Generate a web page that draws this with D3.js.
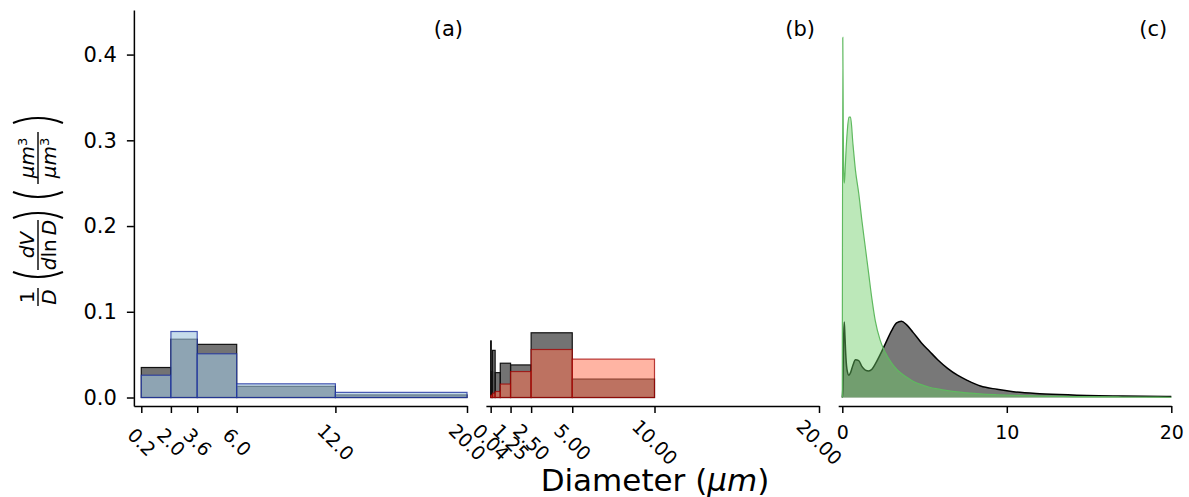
<!DOCTYPE html>
<html>
<head>
<meta charset="utf-8">
<script src="https://cdn.jsdelivr.net/npm/d3@7"></script>
<style>
body { margin: 0; background: #fff; }
text { font-family: "DejaVu Sans", sans-serif; fill: #000; }
.axis text { font-size: 19px; }
.yaxis text { font-size: 21px; }
.axis path, .axis line { stroke: #000; stroke-width: 1.5; }
</style>
</head>
<body>
<div id="chart"></div>
<script>
// panel (a)
let aEdges = [0.2, 2.0, 3.6, 6.0, 12.0, 20.0];
let aBlack = [0.035, 0.068, 0.062, 0.013, 0.003];
let aBlue = [0.026, 0.077, 0.051, 0.016, 0.006];
let aTicks = [0.2, 2.0, 3.6, 6.0, 12.0, 20.0];

// panel (b)
let bEdges = [0.039, 0.078, 0.156, 0.3125, 0.625, 1.25, 2.5, 5, 10];
let bBlack = [0.066, 0.03, 0.055, 0.029, 0.040, 0.038, 0.0755, 0.0215];
let bRed = [0.002, 0.003, 0.005, 0.007, 0.0157, 0.0303, 0.056, 0.0448];
let bTicks = [0.04, 1.25, 2.5, 5, 10, 20];

// panel (c)
let cDiam = [0, 0.03, 0.06, 0.09, 0.12, 0.16, 0.22, 0.3, 0.4, 0.5, 0.65, 0.8, 1.0, 1.2, 1.4, 1.6, 1.8, 2.0,
    2.3, 2.6, 3.0, 3.3, 3.6, 3.9, 4.3, 4.8, 5.3, 5.8, 6.4, 7.0, 7.6, 8.4, 9.4, 10.4, 12, 14, 17, 20];
let cBlack = [0, 0.01, 0.045, 0.075, 0.088, 0.072, 0.047, 0.031, 0.026, 0.029, 0.038, 0.044, 0.043, 0.036,
    0.032, 0.031, 0.033, 0.039, 0.05, 0.062, 0.078, 0.087, 0.089, 0.085, 0.076, 0.064, 0.054, 0.044, 0.034,
    0.026, 0.020, 0.0134, 0.0096, 0.0068, 0.0045, 0.003, 0.0018, 0.0012];
let cGreen = [0, 0.42, 0.31, 0.26, 0.25, 0.26, 0.285, 0.31, 0.327, 0.327, 0.295, 0.265, 0.238, 0.205, 0.175,
    0.145, 0.115, 0.09, 0.067, 0.053, 0.04, 0.033, 0.028, 0.024, 0.019, 0.015, 0.012, 0.01, 0.008, 0.0065,
    0.0055, 0.0042, 0.0032, 0.0025, 0.0017, 0.0011, 0.0006, 0.0003];
let cTicks = [0, 10, 20];

let yTicks = [0, 0.1, 0.2, 0.3, 0.4];
let panelLabels = ["(a)", "(b)", "(c)"];

let canvasWidth = 1189;
let canvasHeight = 497;

let svg = d3.select("div#chart")
    .append("svg")
    .attr("width", canvasWidth)
    .attr("height", canvasHeight);

let yScale = d3.scaleLinear().domain([-0.0099, 0.452]).range([406, 10]);
let axisY = 406;
let panelLeft = [138, 490, 842.3];
let panelSpan = 329;

function makeX(i) {
    // 0..20 maps to panelSpan pixels; domain starts a bit below 0 like the spine
    let x0 = panelLeft[i];
    let k = panelSpan / 20;
    return d3.scaleLinear().domain([-0.25, 20]).range([x0 - 0.25 * k, x0 + panelSpan]);
}

let xa = makeX(0), xb = makeX(1), xc = makeX(2);

function bars(xs, edges, values, fill, opacity, stroke) {
    let data = values.map((v, i) => ({x0: edges[i], x1: edges[i + 1], v: v}));
    svg.append("g").selectAll("rect")
        .data(data)
        .join("rect")
        .attr("x", d => xs(d.x0))
        .attr("width", d => xs(d.x1) - xs(d.x0))
        .attr("y", d => yScale(d.v))
        .attr("height", d => yScale(0) - yScale(d.v))
        .attr("fill", fill)
        .attr("fill-opacity", opacity)
        .attr("stroke", stroke)
        .attr("stroke-width", 1.2);
}

// black first, coloured ones on top
bars(xa, aEdges, aBlack, "#000", 0.55, "#111");
bars(xa, aEdges, aBlue, "rgb(160,196,222)", 0.6, "rgba(30,50,160,0.8)");
bars(xb, bEdges, bBlack, "#000", 0.55, "#111");
bars(xb, bEdges, bRed, "#ff7252", 0.53, "rgba(160,0,0,0.75)");

// panel (c) curves
let cData = cDiam.map((d, i) => ({d: d, k: cBlack[i], g: cGreen[i]}));

svg.append("path")
    .datum(cData)
    .attr("fill", "#000")
    .attr("fill-opacity", 0.53)
    .attr("d", d3.area().curve(d3.curveMonotoneX)
        .x(d => xc(d.d)).y0(yScale(0)).y1(d => yScale(d.k)));
svg.append("path")
    .datum(cData)
    .attr("fill", "none")
    .attr("stroke", "#000")
    .attr("stroke-width", 1.5)
    .attr("d", d3.line().curve(d3.curveMonotoneX)
        .x(d => xc(d.d)).y(d => yScale(d.k)));
svg.append("path")
    .datum(cData)
    .attr("fill", "rgb(106,204,99)")
    .attr("fill-opacity", 0.45)
    .attr("d", d3.area().curve(d3.curveMonotoneX)
        .x(d => xc(d.d)).y0(yScale(0)).y1(d => yScale(d.g)));
svg.append("path")
    .datum(cData)
    .attr("fill", "none")
    .attr("stroke", "rgb(95,185,95)")
    .attr("stroke-width", 1.2)
    .attr("d", d3.line().curve(d3.curveMonotoneX)
        .x(d => xc(d.d)).y(d => yScale(d.g)));

// x axes
function rotatedAxis(xs, ticks, fmt) {
    let g = svg.append("g")
        .attr("class", "axis")
        .attr("transform", "translate(0," + axisY + ")")
        .call(d3.axisBottom(xs).tickValues(ticks).tickFormat(d3.format(fmt))
            .tickSize(7).tickSizeOuter(0));
    g.selectAll(".tick text")
        .attr("y", null)
        .attr("dy", null)
        .attr("text-anchor", "middle")
        .attr("dominant-baseline", "central")
        .attr("transform", "translate(0,36) rotate(45)");
    return g;
}
rotatedAxis(xa, aTicks, ".1f");
rotatedAxis(xb, bTicks, ".2f");

let gc = svg.append("g")
    .attr("class", "axis")
    .attr("transform", "translate(0," + axisY + ")")
    .call(d3.axisBottom(xc).tickValues(cTicks).tickFormat(d3.format("d"))
        .tickSize(7).tickSizeOuter(0));
gc.selectAll(".tick text").attr("y", 20);

// y axis (only on the first panel)
svg.append("g")
    .attr("class", "axis yaxis")
    .attr("transform", "translate(" + xa(-0.25) + ",0)")
    .call(d3.axisLeft(yScale).tickValues(yTicks).tickFormat(d3.format(".1f"))
        .tickSize(7).tickPadding(10).tickSizeOuter(0));

// panel labels
[xa, xb, xc].forEach((xs, i) => {
    svg.append("text")
        .attr("x", xs(20) - 4)
        .attr("y", 36)
        .attr("text-anchor", "end")
        .style("font-size", "21px")
        .text(panelLabels[i]);
});

// x label
let xl = svg.append("text")
    .attr("x", 655)
    .attr("y", 491)
    .attr("text-anchor", "middle")
    .style("font-size", "31px");
xl.append("tspan").text("Diameter (");
xl.append("tspan").style("font-style", "italic").text("\u03bcm");
xl.append("tspan").text(")");

// y label, built as rotated math
let yl = svg.append("g").attr("transform", "translate(38,210) rotate(-90)");

function frac(cx, num, den, half) {
    let n = yl.append("text").attr("x", cx).attr("y", -4).attr("text-anchor", "middle")
        .style("font-size", "20px");
    num.forEach(p => n.append("tspan").style("font-style", p[1] ? "italic" : "normal")
        .attr("baseline-shift", p[2] ? "super" : null).style("font-size", p[2] ? "13px" : null).text(p[0]));
    let dn = yl.append("text").attr("x", cx).attr("y", 18).attr("text-anchor", "middle")
        .style("font-size", "20px");
    den.forEach(p => dn.append("tspan").style("font-style", p[1] ? "italic" : "normal")
        .attr("baseline-shift", p[2] ? "super" : null).style("font-size", p[2] ? "13px" : null).text(p[0]));
    yl.append("line").attr("x1", cx - half).attr("x2", cx + half).attr("y1", 0).attr("y2", 0)
        .attr("stroke", "#000").attr("stroke-width", 1.4);
}

function paren(px, open) {
    let s = open ? 1 : -1;
    yl.append("path")
        .attr("d", "M" + (px + 5 * s) + ",-25 Q" + (px - 5 * s) + ",0 " + (px + 5 * s) + ",25")
        .attr("fill", "none").attr("stroke", "#000").attr("stroke-width", 2);
}

frac(-87, [["1", false]], [["D", true]], 9);
paren(-67, true);
frac(-35, [["dV", true]], [["d", true], ["ln", false], ["\u2009D", true]], 25);
paren(-3, false);
paren(13, true);
frac(52, [["\u03bcm", true], ["3", false, true]], [["\u03bcm", true], ["3", false, true]], 26);
paren(92, false);
</script>
</body>
</html>
